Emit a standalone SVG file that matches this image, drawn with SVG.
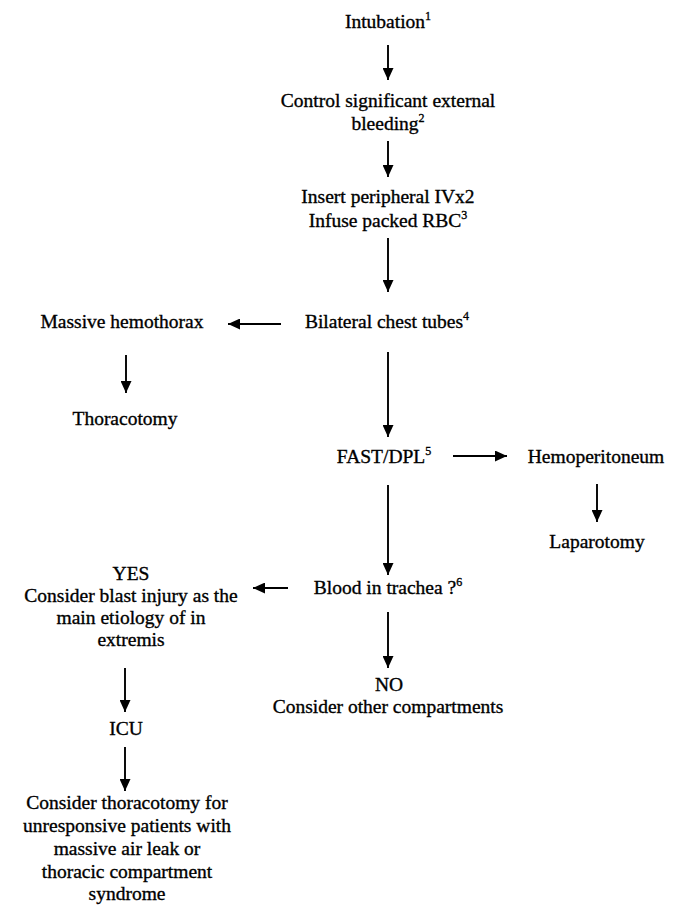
<svg xmlns="http://www.w3.org/2000/svg" width="679" height="905" viewBox="0 0 679 905">
<style>
text{font-family:"Liberation Serif","Times New Roman",serif;font-size:19.5px;fill:#000;stroke:#000;stroke-width:0.35;text-anchor:middle}
.sup{font-size:12px}
.c{stroke:#000;stroke-width:1.9;fill:none}
</style>
<defs>
<marker id="ah" viewBox="0 0 12 11" refX="12" refY="5.5" markerWidth="12" markerHeight="11" markerUnits="userSpaceOnUse" orient="auto">
<path d="M0,0 L12,5.5 L0,11 Z" fill="#000"/>
</marker>
</defs>
<rect width="679" height="905" fill="#fff"/>
<g id="connectors">
<line class="c" x1="388" y1="45" x2="388" y2="80" marker-end="url(#ah)"/>
<line class="c" x1="388" y1="141" x2="388" y2="177" marker-end="url(#ah)"/>
<line class="c" x1="388" y1="238" x2="388" y2="292" marker-end="url(#ah)"/>
<line class="c" x1="281" y1="324" x2="228" y2="324" marker-end="url(#ah)"/>
<line class="c" x1="126" y1="355" x2="126" y2="393" marker-end="url(#ah)"/>
<line class="c" x1="388" y1="352" x2="388" y2="437" marker-end="url(#ah)"/>
<line class="c" x1="453" y1="456" x2="507" y2="456" marker-end="url(#ah)"/>
<line class="c" x1="597" y1="484" x2="597" y2="522" marker-end="url(#ah)"/>
<line class="c" x1="388" y1="485" x2="388" y2="575" marker-end="url(#ah)"/>
<line class="c" x1="288" y1="588" x2="253" y2="588" marker-end="url(#ah)"/>
<line class="c" x1="388" y1="612" x2="388" y2="668" marker-end="url(#ah)"/>
<line class="c" x1="125" y1="668" x2="125" y2="712" marker-end="url(#ah)"/>
<line class="c" x1="125" y1="747" x2="125" y2="791" marker-end="url(#ah)"/>
</g>
<g id="intubation"><text x="388" y="28">Intubation<tspan class="sup" dy="-8">1</tspan></text></g>
<g id="bleeding"><text x="388" y="107">Control significant external</text><text x="388" y="130">bleeding<tspan class="sup" dy="-8">2</tspan></text></g>
<g id="iv"><text x="388" y="203">Insert peripheral IVx2</text><text x="388" y="227">Infuse packed RBC<tspan class="sup" dy="-8">3</tspan></text></g>
<g id="chest-tubes"><text x="387" y="328">Bilateral chest tubes<tspan class="sup" dy="-8">4</tspan></text></g>
<g id="hemothorax"><text x="122" y="328">Massive hemothorax</text></g>
<g id="thoracotomy"><text x="125" y="425">Thoracotomy</text></g>
<g id="fast"><text x="384" y="463">FAST/DPL<tspan class="sup" dy="-8">5</tspan></text></g>
<g id="hemoperitoneum"><text x="596" y="463">Hemoperitoneum</text></g>
<g id="laparotomy"><text x="597" y="548">Laparotomy</text></g>
<g id="trachea"><text x="388" y="594">Blood in trachea ?<tspan class="sup" dy="-8">6</tspan></text></g>
<g id="yes"><text x="131" y="580">YES</text><text x="131" y="602">Consider blast injury as the</text><text x="131" y="624">main etiology of in</text><text x="131" y="646">extremis</text></g>
<g id="no"><text x="389" y="691">NO</text><text x="388" y="713">Consider other compartments</text></g>
<g id="icu"><text x="126" y="735">ICU</text></g>
<g id="thoracotomy-consider"><text x="127" y="809">Consider thoracotomy for</text><text x="127" y="832">unresponsive patients with</text><text x="127" y="855">massive air leak or</text><text x="127" y="878">thoracic compartment</text><text x="127" y="900">syndrome</text></g>
</svg>
